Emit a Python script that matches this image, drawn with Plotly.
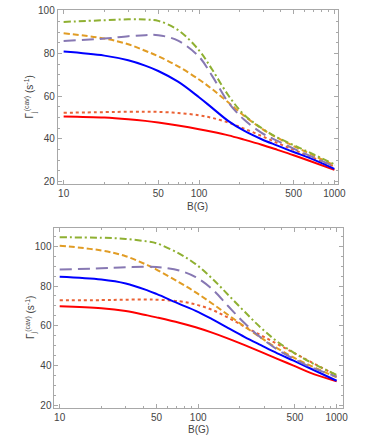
import plotly.graph_objects as go

# ---------------- data ----------------
B_top = [10, 20, 30, 40, 50, 70, 100, 125, 165, 215, 290, 380, 500, 660, 1000]
top_red = [50.5, 50.0, 49.2, 48.4, 47.6, 46.2, 44.5, 43.3, 41.6, 39.6, 37.2, 34.8, 32.3, 29.6, 25.4]
top_reddot = [52.2, 52.5, 52.7, 52.7, 52.6, 52.1, 51.0, 49.8, 47.6, 44.8, 41.3, 38.0, 34.9, 31.7, 27.0]
top_blue = [80.9, 79.0, 76.8, 74.3, 71.8, 66.8, 59.5, 54.5, 48.3, 43.8, 39.8, 36.8, 33.8, 30.9, 25.9]
top_orange = [89.5, 87.0, 84.3, 81.3, 78.7, 74.0, 67.8, 63.3, 57.0, 50.8, 44.8, 40.4, 36.6, 33.0, 27.5]
top_purple = [85.9, 87.0, 88.1, 88.6, 88.6, 86.0, 78.5, 69.5, 57.0, 49.0, 42.8, 39.0, 35.4, 32.0, 27.0]
top_green = [94.8, 95.6, 96.0, 95.9, 95.3, 91.0, 81.5, 72.5, 60.3, 51.3, 45.0, 40.6, 37.0, 33.5, 28.0]

B_bot = [10, 20, 30, 43, 50, 73, 96, 126, 165, 217, 284, 373, 489, 641, 1000]
bot_red = [69.8, 68.8, 67.4, 65.2, 64.2, 61.5, 59.2, 56.5, 53.5, 50.2, 46.8, 43.3, 39.9, 36.4, 32.0]
bot_reddot = [72.8, 72.9, 73.1, 73.2, 73.1, 72.3, 70.7, 68.0, 64.0, 59.5, 55.2, 50.8, 46.4, 42.0, 35.0]
bot_blue = [84.7, 83.3, 81.3, 77.8, 76.0, 71.0, 67.5, 63.3, 58.8, 54.3, 50.2, 46.1, 42.4, 38.6, 32.3]
bot_orange = [100.3, 97.9, 95.0, 90.5, 88.3, 81.8, 76.8, 71.2, 65.4, 59.5, 54.0, 48.6, 44.0, 40.0, 34.0]
bot_purple = [88.3, 88.9, 89.4, 89.7, 89.6, 87.8, 84.5, 78.5, 69.8, 61.2, 54.0, 48.0, 43.4, 39.4, 34.4]
bot_green = [104.5, 104.3, 103.7, 102.4, 101.5, 96.3, 91.0, 83.8, 75.5, 67.0, 59.0, 52.0, 46.5, 41.8, 35.2]

x_ticks = [10, 50, 100, 500, 1000]
x_tick_text = ["10", "50", "100", "500", "1000"]
x_minor = [20, 30, 40, 60, 70, 80, 90, 200, 300, 400, 600, 700, 800, 900]
y_ticks = [20, 40, 60, 80, 100]

# ---------------- styles ----------------
styles = {
    "red": dict(color="#FF0000", width=2, dash="solid"),
    "reddot": dict(color="#EB6235", width=2, dash="dot"),
    "blue": dict(color="#0000FF", width=2, dash="solid"),
    "orange": dict(color="#E19C24", width=2, dash="6px,3px"),
    "purple": dict(color="#8778B3", width=2, dash="12px,6px"),
    "green": dict(color="#8FB032", width=2, dash="7px,3px,2px,3px"),
}
top_data = dict(red=top_red, reddot=top_reddot, blue=top_blue,
                orange=top_orange, purple=top_purple, green=top_green)
bot_data = dict(red=bot_red, reddot=bot_reddot, blue=bot_blue,
                orange=bot_orange, purple=bot_purple, green=bot_green)

fig = go.Figure()
draw_order = ["red", "reddot", "blue", "orange", "purple", "green"]
for name in draw_order:
    fig.add_trace(go.Scatter(x=B_top, y=top_data[name], mode="lines",
                             line=dict(shape="spline", smoothing=1.0, **styles[name]),
                             xaxis="x", yaxis="y", showlegend=False, hoverinfo="skip"))
for name in draw_order:
    fig.add_trace(go.Scatter(x=B_bot, y=bot_data[name], mode="lines",
                             line=dict(shape="spline", smoothing=1.0, **styles[name]),
                             xaxis="x2", yaxis="y2", showlegend=False, hoverinfo="skip"))

frame = "#A8A8A8"
tickfont = dict(family="Liberation Sans, Arial, sans-serif", size=10, color="#444444")

def xax(domain, rng, anchor):
    return dict(domain=domain, type="log", range=rng, anchor=anchor,
                tickvals=x_ticks, ticktext=x_tick_text, ticks="inside",
                ticklen=4, tickcolor=frame, tickwidth=1,
                minor=dict(tickvals=x_minor, ticks="inside", ticklen=2,
                           tickcolor=frame, showgrid=False),
                showline=True, linecolor=frame, linewidth=1, mirror="ticks",
                showgrid=False, zeroline=False, tickfont=tickfont,
                ticklabelstandoff=0, ticklabeloverflow="allow")

def yax(domain, rng, anchor):
    return dict(domain=domain, range=rng, anchor=anchor,
                tickvals=y_ticks, ticks="inside",
                ticklen=4, tickcolor=frame, tickwidth=1,
                minor=dict(dtick=5, ticks="inside", ticklen=2,
                           tickcolor=frame, showgrid=False),
                showline=True, linecolor=frame, linewidth=1, mirror="ticks",
                showgrid=False, zeroline=False, tickfont=tickfont,
                ticklabelstandoff=0, ticklabeloverflow="allow")

fig.update_layout(
    width=374, height=441,
    margin=dict(l=0, r=0, t=0, b=0),
    paper_bgcolor="white", plot_bgcolor="white",
    xaxis=xax([0.1578, 0.9225], [0.9566, 3.024], "y"),
    yaxis=yax([0.5866, 0.988], [18.8, 100.3], "x"),
    xaxis2=xax([0.1489, 0.9358], [0.9625, 3.0425], "y2"),
    yaxis2=yax([0.0703, 0.4859], [18.8, 109.4], "x2"),
)

title_font = dict(family="Liberation Sans, Arial, sans-serif", size=10, color="#444444")
ylab = "Γ<sub>j</sub><sup>(cav)</sup> (s<sup>-1</sup>)"
for ytitle_center in [(182.3 + 5.3) / 2, (410 + 226.7) / 2]:
    fig.add_annotation(x=31 / 374, y=1 - ytitle_center / 441, xref="paper", yref="paper",
                       text=ylab, textangle=-90, showarrow=False,
                       font=dict(family="Liberation Sans, Arial, sans-serif", size=10, color="#444444"),
                       xanchor="center", yanchor="middle")
for xc, ty in [((59 + 345) / 2 / 374, 205), ((55.7 + 350) / 2 / 374, 432)]:
    fig.add_annotation(x=xc, y=1 - ty / 441, xref="paper", yref="paper",
                       text="B(G)", showarrow=False, font=title_font,
                       xanchor="center", yanchor="middle")

fig.write_html("out.html", config={"displayModeBar": False},
               post_script="document.body.style.margin='0';document.body.style.overflow='hidden';")
